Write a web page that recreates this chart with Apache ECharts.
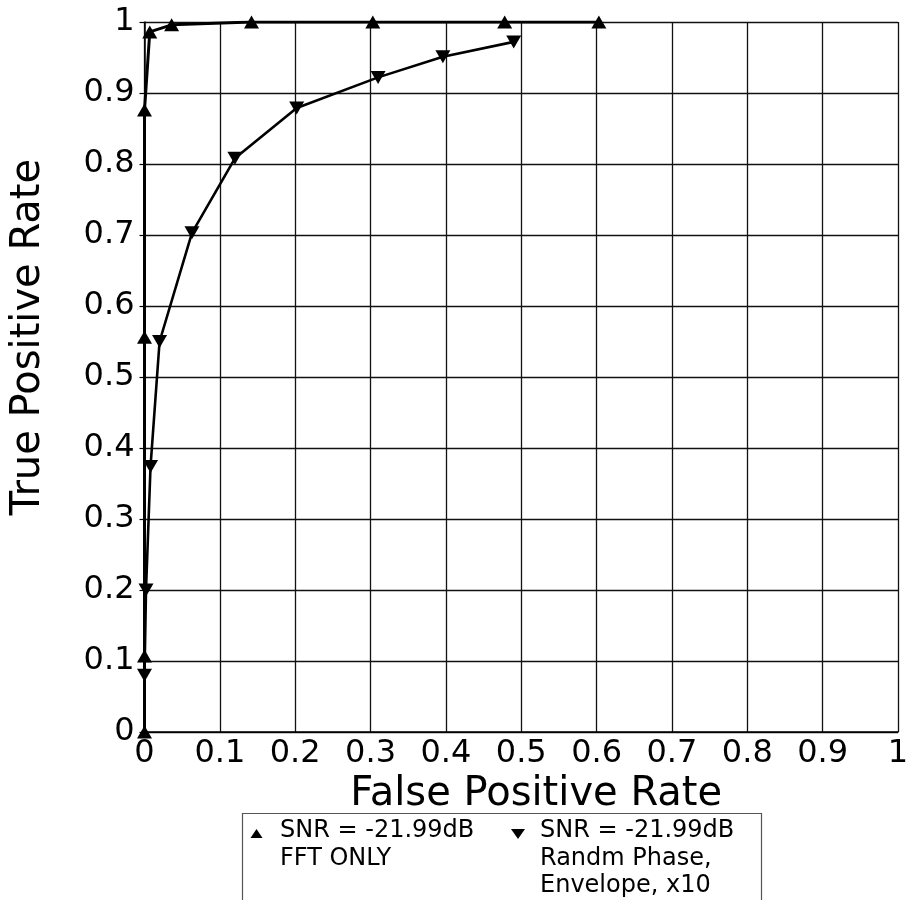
<!DOCTYPE html>
<html>
<head>
<meta charset="utf-8">
<script src="https://cdn.jsdelivr.net/npm/echarts@6/dist/echarts.min.js"></script>
<style>
html,body{margin:0;padding:0;background:#fff;}
#main{width:911px;height:900px;}
</style>
</head>
<body>
<div id="main"></div>
<script>
// Data
const fftX = [0, 0, 0, 0, 0.007, 0.036, 0.142, 0.303, 0.478, 0.603];
const fftY = [0, 0.107, 0.556, 0.876, 0.986, 0.996, 1, 1, 1, 1];
const rndX = [0, 0.002, 0.008, 0.02, 0.063, 0.12, 0.202, 0.31, 0.396, 0.49];
const rndY = [0.08, 0.2, 0.374, 0.55, 0.703, 0.808, 0.879, 0.922, 0.951, 0.972];
const seriesNames = ['SNR = -21.99dB\nFFT ONLY', 'SNR = -21.99dB\nRandm Phase,\nEnvelope, x10'];
const xTitle = 'False Positive Rate';
const yTitle = 'True Positive Rate';

const FONT = 'DejaVu Sans';
const chart = echarts.init(document.getElementById('main'), null, {renderer: 'canvas'});

function pairs(xs, ys) { return xs.map((x, i) => [x, ys[i]]); }

const legendLines = seriesNames.map(s => s.split('\n'));
const graphics = [
  {type: 'rect', shape: {x: 242.5, y: 813.5, width: 519, height: 120},
   style: {fill: '#fff', stroke: '#555', lineWidth: 1.2}, z: 10},
  {type: 'polygon', shape: {points: [[256.5, 829], [250.5, 838], [262.5, 838]]},
   style: {fill: '#000'}, z: 11},
  {type: 'polygon', shape: {points: [[511, 829], [525, 829], [518, 839]]},
   style: {fill: '#000'}, z: 11}
];
legendLines[0].forEach((t, i) => graphics.push({type: 'text', x: 280, y: 831 + i * 27.5, z: 11,
  style: {text: t, font: '24px "DejaVu Sans"', fill: '#000', verticalAlign: 'middle'}}));
legendLines[1].forEach((t, i) => graphics.push({type: 'text', x: 540, y: 831 + i * 27.5, z: 11,
  style: {text: t, font: '24px "DejaVu Sans"', fill: '#000', verticalAlign: 'middle'}}));

chart.setOption({
  animation: false,
  backgroundColor: '#fff',
  grid: {left: 144.5, right: 13, top: 22, bottom: 168, containLabel: false, outerBoundsMode: 'none'},
  xAxis: {
    type: 'value', min: 0, max: 1, interval: 0.1,
    name: xTitle, nameLocation: 'middle', nameGap: 37,
    nameTextStyle: {fontFamily: FONT, fontSize: 40, color: '#000', padding: [0, 0, 0, 30]},
    axisLine: {show: true, lineStyle: {color: '#000', width: 1.5}},
    axisTick: {show: false},
    axisLabel: {fontFamily: FONT, fontSize: 32, color: '#000', margin: 6},
    splitLine: {show: true, lineStyle: {color: '#111', width: 1.3}}
  },
  yAxis: {
    type: 'value', min: 0, max: 1, interval: 0.1,
    name: yTitle, nameLocation: 'middle', nameGap: 96,
    nameTextStyle: {fontFamily: FONT, fontSize: 40, color: '#000', padding: [0, 0, 0, 80]},
    axisLine: {show: true, lineStyle: {color: '#000', width: 1.5}},
    axisTick: {show: true, length: 5, lineStyle: {color: '#000', width: 1.2}},
    axisLabel: {fontFamily: FONT, fontSize: 32, color: '#000', margin: 10},
    splitLine: {show: true, lineStyle: {color: '#111', width: 1.3}}
  },
  series: [
    {
      name: seriesNames[0], type: 'line', data: pairs(fftX, fftY),
      symbol: 'triangle', symbolSize: [15, 13], showAllSymbol: true,
      lineStyle: {color: '#000', width: 3}, itemStyle: {color: '#000'}, z: 3
    },
    {
      name: seriesNames[1], type: 'line', data: pairs(rndX, rndY),
      symbol: 'triangle', symbolRotate: 180, symbolSize: [15, 13], showAllSymbol: true,
      lineStyle: {color: '#000', width: 2.6}, itemStyle: {color: '#000'}, z: 3
    }
  ],
  graphic: graphics
});
</script>
</body>
</html>
